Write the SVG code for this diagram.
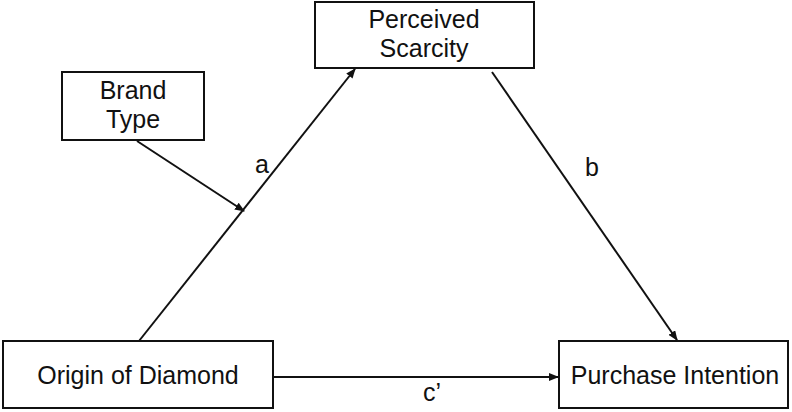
<svg xmlns="http://www.w3.org/2000/svg" width="792" height="412" viewBox="0 0 792 412">
<style>
.box{fill:#fff;stroke:#111;stroke-width:2}
.t{font-family:"Liberation Sans",Arial,sans-serif;font-size:25px;fill:#111;text-anchor:middle}
.c{stroke:#111;stroke-width:2;fill:none;marker-end:url(#ah)}
</style>
<defs>
<marker id="ah" markerWidth="10" markerHeight="8" refX="9" refY="4" orient="auto" markerUnits="userSpaceOnUse">
<path d="M0,0 L10,4 L0,8 Z" fill="#111"/>
</marker>
</defs>
<rect width="792" height="412" fill="#fff"/>
<g id="connectors">
<line class="c" x1="139" y1="341" x2="355" y2="69"/>
<line class="c" x1="137" y1="141" x2="244" y2="211"/>
<line class="c" x1="492" y1="72" x2="677" y2="340"/>
<line class="c" x1="274" y1="377" x2="558" y2="377"/>
<text class="t" x="262" y="173">a</text>
<text class="t" x="592" y="176">b</text>
<text class="t" x="432" y="401">c’</text>
</g>
<g id="perceived">
<rect class="box" x="315" y="2" width="219" height="66"/>
<text class="t" x="424" y="28">Perceived</text>
<text class="t" x="424" y="57">Scarcity</text>
</g>
<g id="brand">
<rect class="box" x="62" y="72" width="142" height="68"/>
<text class="t" x="133" y="99">Brand</text>
<text class="t" x="133" y="128">Type</text>
</g>
<g id="origin">
<rect class="box" x="3" y="341" width="270" height="67"/>
<text class="t" x="138" y="384">Origin of Diamond</text>
</g>
<g id="purchase">
<rect class="box" x="559" y="341" width="229" height="67"/>
<text class="t" x="675" y="384">Purchase Intention</text>
</g>
</svg>
